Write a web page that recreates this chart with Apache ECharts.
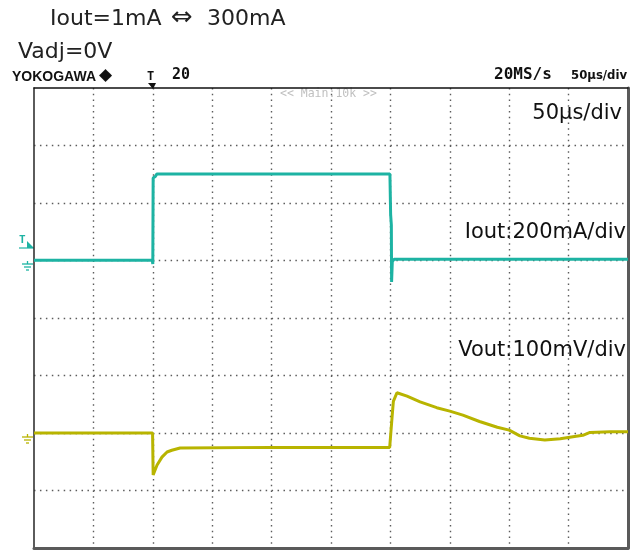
<!DOCTYPE html>
<html>
<head>
<meta charset="utf-8">
<script src="https://cdn.jsdelivr.net/npm/echarts@6/dist/echarts.min.js"></script>
<style>
html,body{margin:0;padding:0;background:#fff;}
#c{width:642px;height:551px;}
</style>
</head>
<body>
<div id="c"></div>
<script>
// ---- data (time in µs, Iout in mA, Vout deviation in mV) ----
var ioutTime = [0, 99.6, 100.0, 100.3, 102, 103.5, 299.6, 300.2, 300.8, 301.0, 301.6, 303, 500];
var ioutVals = [1, 1, -12, 287, 292, 301, 301, 160, 123, -75, -4, 4, 4];

var voutTime = [0, 99.8, 100.3, 103.5, 107.7, 112, 116, 123, 200, 299.4, 300.4, 301.5, 302.5, 305.5, 314, 325, 339, 350, 361, 375, 390, 400, 409, 417, 430, 443, 455, 462, 468, 485, 500];
var voutVals = [0, 0, -73, -56, -42, -33, -30, -26, -25, -25, -22, 30, 55, 70, 64, 54, 44, 38, 31, 20, 10, 5, -5, -9, -12, -10, -6, -4, 1, 2, 2];

var timeTicks = [0, 50, 100, 150, 200, 250, 300, 350, 400, 450, 500];
var ioutScale = {min: -1000, max: 600, step: 200};
var voutScale = {min: -200, max: 600, step: 100};

function pairs(xs, ys) { return xs.map(function (x, i) { return [x, ys[i]]; }); }

var chart = echarts.init(document.getElementById('c'), null, {renderer: 'canvas'});
var dotH = {color: '#5c5c5c', width: 1.4, type: [1.5, 4.44]};
var dotV = {color: '#5c5c5c', width: 1.4, type: [1.5, 4.25]};
var TXT = '"DejaVu Sans", Verdana, sans-serif';
var CYAN = '#1db3a3';
var OLIVE = '#b8b400';

function groundSymbol(x, y, color) {
  return {
    type: 'group', x: x, y: y, silent: true,
    children: [
      {type: 'line', shape: {x1: 5.5, y1: 0, x2: 5.5, y2: 3}, style: {stroke: color, lineWidth: 1.3}},
      {type: 'line', shape: {x1: 0, y1: 3, x2: 11, y2: 3}, style: {stroke: color, lineWidth: 1.3}},
      {type: 'line', shape: {x1: 2, y1: 6, x2: 9, y2: 6}, style: {stroke: color, lineWidth: 1.3}},
      {type: 'line', shape: {x1: 4, y1: 9, x2: 7, y2: 9}, style: {stroke: color, lineWidth: 1.3}}
    ]
  };
}

chart.setOption({
  animation: false,
  backgroundColor: '#ffffff',
  grid: {left: 34, top: 88, right: 14, bottom: 3, containLabel: false},
  xAxis: [
    {type: 'value', min: timeTicks[0], max: timeTicks[timeTicks.length - 1], interval: timeTicks[1] - timeTicks[0],
     position: 'bottom',
     axisLine: {show: true, onZero: false, lineStyle: {color: '#5a5a5a', width: 3}},
     axisTick: {show: false}, axisLabel: {show: false},
     splitLine: {show: true, showMinLine: false, showMaxLine: false, lineStyle: dotV}},
    {type: 'value', min: timeTicks[0], max: timeTicks[timeTicks.length - 1], interval: timeTicks[1] - timeTicks[0],
     position: 'top',
     axisLine: {show: true, onZero: false, lineStyle: {color: '#111', width: 1.5}},
     axisTick: {show: false}, axisLabel: {show: false}, splitLine: {show: false}}
  ],
  yAxis: [
    {type: 'value', min: ioutScale.min, max: ioutScale.max, interval: ioutScale.step, position: 'left',
     axisLine: {show: true, onZero: false, lineStyle: {color: '#333', width: 1.6}},
     axisTick: {show: false}, axisLabel: {show: false},
     splitLine: {show: true, showMinLine: false, showMaxLine: false, lineStyle: dotH}},
    {type: 'value', min: voutScale.min, max: voutScale.max, interval: voutScale.step, position: 'right',
     axisLine: {show: true, onZero: false, lineStyle: {color: '#5a5a5a', width: 3}},
     axisTick: {show: false}, axisLabel: {show: false}, splitLine: {show: false}}
  ],
  series: [
    {name: 'Iout', type: 'line', xAxisIndex: 0, yAxisIndex: 0, data: pairs(ioutTime, ioutVals),
     showSymbol: false, symbol: 'none', lineStyle: {color: CYAN, width: 3}, z: 5},
    {name: 'Vout', type: 'line', xAxisIndex: 0, yAxisIndex: 1, data: pairs(voutTime, voutVals),
     showSymbol: false, symbol: 'none', lineStyle: {color: OLIVE, width: 3}, z: 4}
  ],
  graphic: [
    {type: 'text', left: 50, top: 8, style: {text: 'Iout=1mA', font: '22px ' + TXT, fill: '#222'}},
    {type: 'text', left: 171, top: 5, style: {text: '\u21D4', font: '26px ' + TXT, fill: '#222'}},
    {type: 'text', left: 207, top: 8, style: {text: '300mA', font: '22px ' + TXT, fill: '#222'}},
    {type: 'text', left: 18, top: 41, style: {text: 'Vadj=0V', font: '22px ' + TXT, fill: '#222'}},
    {type: 'text', left: 12, top: 70, style: {text: 'YOKOGAWA', font: 'bold 14px "Liberation Sans", Arial, sans-serif', fill: '#111'}},
    {type: 'text', left: 99, top: 67, style: {text: '\u25C6', font: '17px "DejaVu Sans", sans-serif', fill: '#111'}},
    {type: 'text', left: 147, top: 71, style: {text: 'T', font: 'bold 12px "DejaVu Sans Mono", monospace', fill: '#111'}},
    {type: 'polygon', shape: {points: [[148, 83], [156, 83], [153, 89]]}, style: {fill: '#111'}},
    {type: 'text', left: 172, top: 68, style: {text: '20', font: 'bold 15px "DejaVu Sans Mono", monospace', fill: '#111'}},
    {type: 'text', left: 494, top: 67, style: {text: '20MS/s', font: 'bold 16px "DejaVu Sans Mono", monospace', fill: '#111'}},
    {type: 'text', left: 571, top: 69, style: {text: '50\u00B5s/div', font: 'bold 13px "Liberation Sans Narrow", "DejaVu Sans Condensed", sans-serif', fill: '#111'}},
    {type: 'text', left: 280, top: 88, style: {text: '<< Main:10k >>', font: '11.5px "DejaVu Sans Mono", monospace', fill: '#c0c0c0'}},
    {type: 'text', right: 20, top: 103, style: {text: '50\u00B5s/div', font: '21px ' + TXT, fill: '#111'}},
    {type: 'text', right: 16, top: 222, style: {text: 'Iout:200mA/div', font: '21px ' + TXT, fill: '#111'}},
    {type: 'text', right: 16, top: 340, style: {text: 'Vout:100mV/div', font: '21px ' + TXT, fill: '#111'}},
    {type: 'text', left: 19, top: 235, style: {text: 'T', font: 'bold 11px "DejaVu Sans Mono", monospace', fill: CYAN}},
    {type: 'polygon', shape: {points: [[27, 241], [34, 248], [27, 248]]}, style: {fill: CYAN}},
    {type: 'line', shape: {x1: 19, y1: 248, x2: 34, y2: 248}, style: {stroke: CYAN, lineWidth: 1.2}},
    groundSymbol(22, 261, CYAN),
    groundSymbol(22, 434, OLIVE)
  ]
});
</script>
</body>
</html>
